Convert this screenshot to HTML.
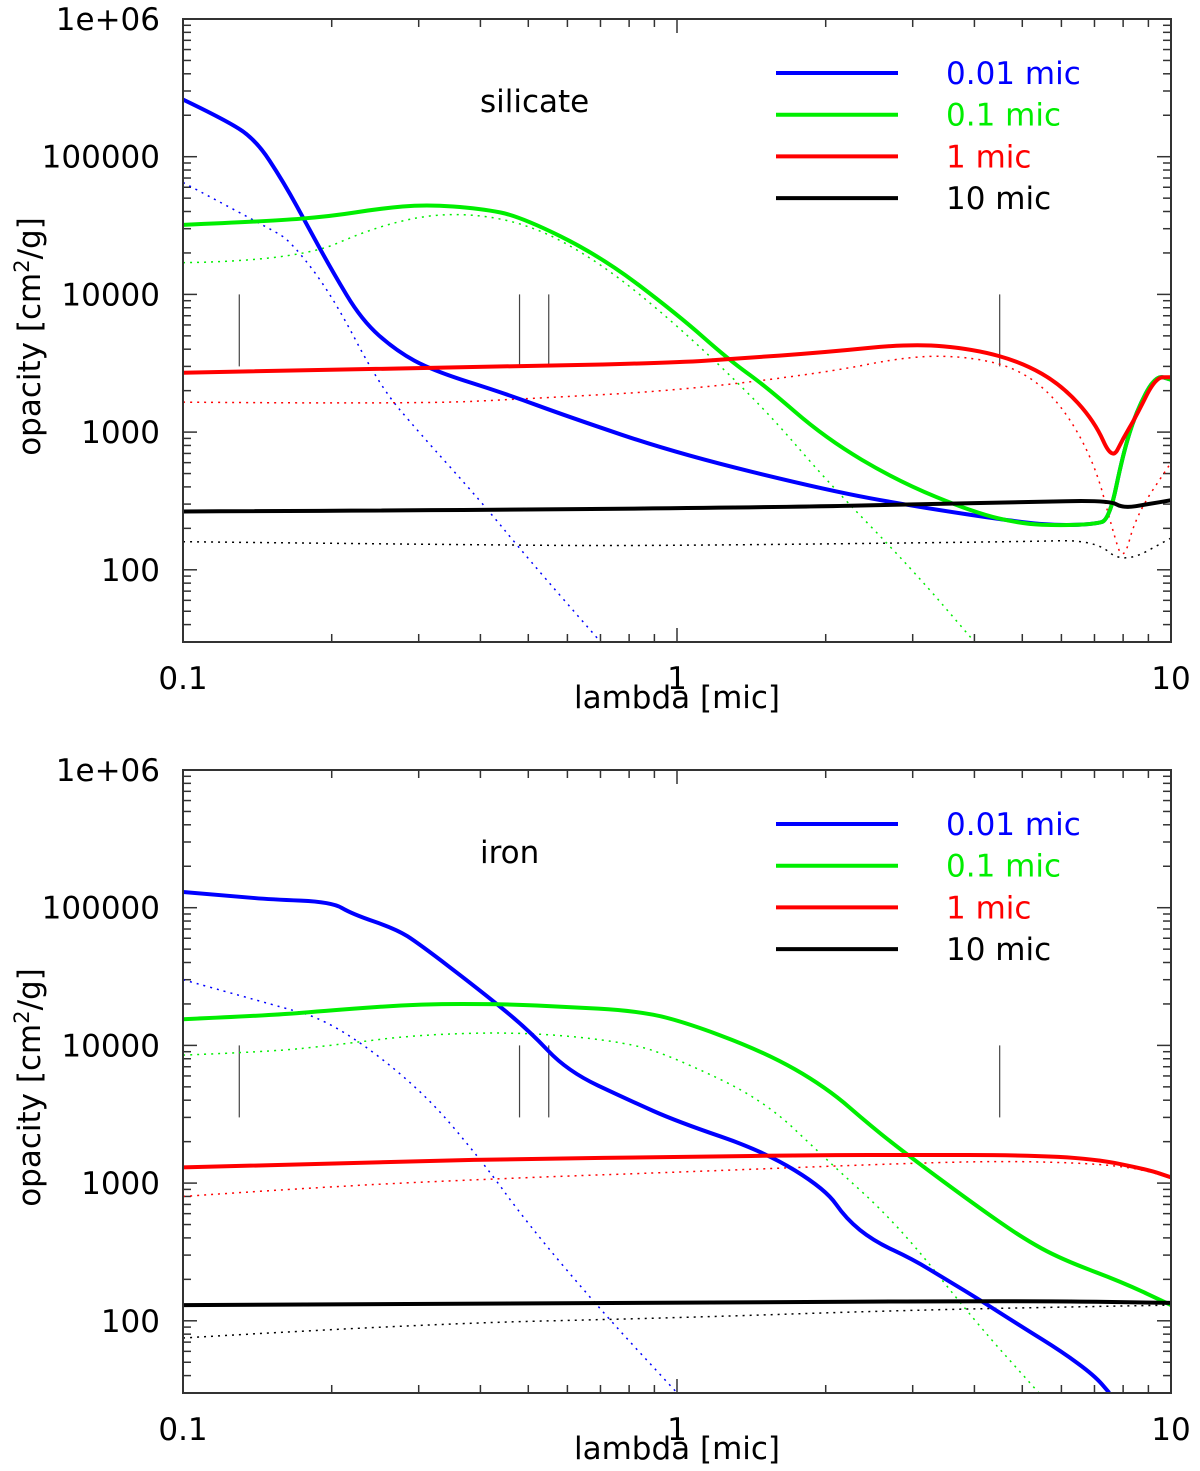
<!DOCTYPE html>
<html><head><meta charset="utf-8"><style>
html,body{margin:0;padding:0;background:#fff}
svg{display:block}
text{font-family:"DejaVu Sans","Liberation Sans",sans-serif;font-size:31px}
</style></head><body>
<svg id="chart" width="1200" height="1471" viewBox="0 0 1200 1471" xmlns="http://www.w3.org/2000/svg"></svg>
<script>
// ---- data ----
const legendLabels = ["0.01 mic","0.1 mic","1 mic","10 mic"];
const seriesColors = ["#0000ff","#00ee00","#ff0000","#000000"];
const yTickLabels = ["100","1000","10000","100000","1e+06"];
const yTickValues = [100,1000,10000,100000,1000000];
const xTickLabels = ["0.1","1","10"];
const xTickValues = [0.1,1,10];
const markerLambdas = [0.13,0.48,0.55,4.5];

// silicate
const silBlueX = [0.1,0.12,0.14,0.16,0.18,0.2,0.23,0.27,0.32,0.45,0.6,1,2,3,5,6,7,7.5,8,8.5,9.3,10];
const silBlueY = [260000,190000,135000,65000,30000,15000,6500,3900,2800,1900,1300,700,380,290,220,210,215,230,700,1400,2600,2400];
const silBlueDX = [0.1,0.15,0.165,0.2,0.25,0.3,0.4,0.5,0.7];
const silBlueDY = [65000,30000,24500,10000,2170,1000,317,120,30];
const silGreenX = [0.1,0.15,0.2,0.25,0.31,0.4,0.48,0.7,1,1.28,1.5,2,2.8,4,5,6,7,7.5,8,8.5,9.3,10];
const silGreenY = [32000,34000,37000,42000,45000,42000,37000,19000,7200,3300,2200,900,440,260,215,210,215,230,700,1400,2600,2400];
const silGreenDX = [0.1,0.17,0.25,0.35,0.5,0.7,1,1.5,2,3,4];
const silGreenDY = [17000,17500,32000,40000,33000,17000,6000,1500,450,100,30];
const silRedX = [0.1,0.5,1,1.3,2,3,4,5,6,7,7.6,8,8.5,9.3,10];
const silRedY = [2700,3000,3200,3400,3800,4400,4000,3200,2200,1200,620,900,1300,2500,2500];
const silRedDX = [0.1,0.3,0.5,1,2,3,4,5,6,7,7.6,8,8.5,10];
const silRedDY = [1650,1600,1750,2000,2700,3600,3500,2800,1600,600,200,110,250,600];
const silBlackX = [0.1,1,5,7.5,8,9,10];
const silBlackY = [265,275,310,320,280,300,320];
const silBlackDX = [0.1,0.5,1,5,7,8,10];
const silBlackDY = [160,150,150,160,165,110,170];

// iron
const irBlueX = [0.1,0.13,0.15,0.2,0.22,0.27,0.3,0.4,0.5,0.6,0.8,1,1.5,2,2.2,2.5,3,3.5,4,5,6,7,7.5];
const irBlueY = [130000,120000,115000,110000,90000,70000,55000,25000,13000,6500,4000,2800,1700,900,550,380,280,200,150,90,60,40,30];
const irBlueDX = [0.1,0.15,0.2,0.3,0.4,0.5,0.7,1];
const irBlueDY = [30000,20000,15000,5000,1500,500,120,30];
const irGreenX = [0.1,0.15,0.2,0.3,0.45,0.6,0.8,1,1.5,2,2.5,3,4,5,6,8,10];
const irGreenY = [15500,16500,18000,20000,20000,19000,18000,15500,9000,5000,2500,1500,700,400,280,190,130];
const irGreenDX = [0.1,0.15,0.2,0.3,0.5,0.8,1,1.5,2,2.8,4,5.4];
const irGreenDY = [8500,9000,10000,12000,12500,10500,8000,4000,1500,500,100,30];
const irRedX = [0.1,0.3,0.5,1,2,3,5,7,9,10];
const irRedY = [1300,1450,1500,1550,1600,1600,1600,1500,1250,1100];
const irRedDX = [0.1,0.2,0.5,1,3,5,8,10];
const irRedDY = [800,950,1100,1200,1400,1450,1350,1100];
const irBlackX = [0.1,1,5,10];
const irBlackY = [130,135,140,135];
const irBlackDX = [0.1,0.3,1,3,10];
const irBlackDY = [75,95,105,120,130];

const NS="http://www.w3.org/2000/svg";
const svg=document.getElementById('chart');
function mk(tag,attrs,parent){const e=document.createElementNS(NS,tag);for(const k in attrs)e.setAttribute(k,attrs[k]);(parent||svg).appendChild(e);return e;}
function smooth(pts){
  let d='M'+pts[0][0]+','+pts[0][1];
  for(let i=1;i<pts.length-1;i++){const mx=(pts[i][0]+pts[i+1][0])/2,my=(pts[i][1]+pts[i+1][1])/2;
    d+=' Q'+pts[i][0]+','+pts[i][1]+' '+mx+','+my;}
  const l=pts[pts.length-1];d+=' L'+l[0]+','+l[1];return d;
}

function panel(top,title,solids,dots,name){
  const L=183,R=1171,T=top,B=top+623, ppd=137.7;
  const X=v=>L+(Math.log10(v)+1)*494;
  const Y=v=>T+(6-Math.log10(v))*ppd;
  const g=mk('g',{});
  
  
  const defs=mk('clipPath',{id:'c'+top},g);
  mk('rect',{x:L,y:T,width:R-L,height:B-T},defs);
  for(let d=-1;d<1;d++)for(let m=1;m<10;m++){const v=m*Math.pow(10,d);const x=X(v);const len=m==1?14:8;
    mk('line',{x1:x,y1:B,x2:x,y2:B-len,stroke:'#333','stroke-width':1.5},g);
    mk('line',{x1:x,y1:T,x2:x,y2:T+len,stroke:'#333','stroke-width':1.5},g);}
  for(let d=1;d<6;d++)for(let m=1;m<10;m++){const v=m*Math.pow(10,d);const y=Y(v);if(y>B||y<T)continue;const len=m==1?14:8;
    mk('line',{x1:L,y1:y,x2:L+len,y2:y,stroke:'#333','stroke-width':1.5},g);
    mk('line',{x1:R,y1:y,x2:R-len,y2:y,stroke:'#333','stroke-width':1.5},g);}
  yTickValues.forEach((v,i)=>{const t=mk('text',{x:160,y:Y(v)+11,'text-anchor':'end'},g);t.textContent=yTickLabels[i];
    
    });
  xTickValues.forEach((v,i)=>{const t=mk('text',{x:X(v),y:B+47,'text-anchor':'middle'},g);t.textContent=xTickLabels[i];
    
    });
  const xt=mk('text',{x:677,y:B+66,'text-anchor':'middle','font-size':'32'},g);xt.textContent='lambda [mic]';
  
  
  const yt=mk('text',{x:0,y:0,transform:`translate(40,${(T+B)/2+6}) rotate(-90)`,'text-anchor':'middle','font-size':'32'},g);
  yt.innerHTML='opacity [cm<tspan dy="-11" font-size="21">2</tspan><tspan dy="11">/g]</tspan>';
  
  
  const tt=mk('text',{x:480,y:T+93},g);tt.textContent=title;
  
  
  markerLambdas.forEach(v=>{const m=mk('line',{x1:X(v),x2:X(v),y1:Y(10000),y2:Y(10000)+72,stroke:'#444','stroke-width':1.2},g);
    
    });
  const cg=mk('g',{'clip-path':`url(#c${top})`},g);
  dots.forEach((s,i)=>{const p=mk('path',{d:smooth(s[0].map((x,j)=>[X(x),Y(s[1][j])])),fill:'none',stroke:seriesColors[i],'stroke-width':1.5,'stroke-dasharray':'2 5'},cg);
    
    });
  solids.forEach((s,i)=>{const p=mk('path',{d:smooth(s[0].map((x,j)=>[X(x),Y(s[1][j])])),fill:'none',stroke:seriesColors[i],'stroke-width':4,'stroke-linejoin':'round'},cg);
    
    });
  legendLabels.forEach((lab,i)=>{const y=T+54+i*41.7;
    const l=mk('line',{x1:776,x2:898,y1:y,y2:y,stroke:seriesColors[i],'stroke-width':4},g);
    
    
    const t=mk('text',{x:946,y:y+11,fill:seriesColors[i],'font-size':'32'},g);t.textContent=lab;
    
    });
  mk('rect',{x:L,y:T,width:R-L,height:B-T,fill:'none',stroke:'#333','stroke-width':2},g);
}
panel(19,'silicate',[[silBlueX,silBlueY],[silGreenX,silGreenY],[silRedX,silRedY],[silBlackX,silBlackY]],
  [[silBlueDX,silBlueDY],[silGreenDX,silGreenDY],[silRedDX,silRedDY],[silBlackDX,silBlackDY]],'silicate-panel');
panel(770,'iron',[[irBlueX,irBlueY],[irGreenX,irGreenY],[irRedX,irRedY],[irBlackX,irBlackY]],
  [[irBlueDX,irBlueDY],[irGreenDX,irGreenDY],[irRedDX,irRedDY],[irBlackDX,irBlackDY]],'iron-panel');
</script>
</body></html>
